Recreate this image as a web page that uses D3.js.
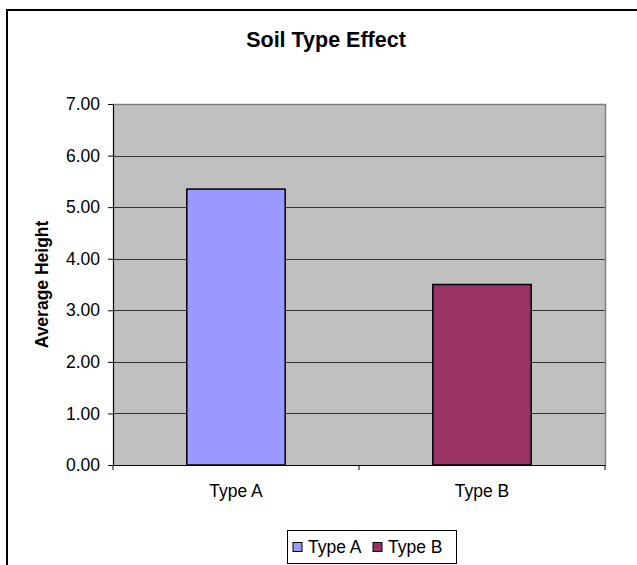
<!DOCTYPE html>
<html>
<head>
<meta charset="utf-8">
<script src="https://cdn.jsdelivr.net/npm/d3@7"></script>
<style>
  html, body { margin: 0; padding: 0; background: #ffffff; }
  svg { display: block; font-family: "Liberation Sans", Arial, sans-serif; }
</style>
</head>
<body>
<svg id="chart" width="637" height="565"></svg>
<script>
const categories = ["Type A", "Type B"];
const values = [5.35, 3.50];
const colors = ["#9999FF", "#993366"];
const yTicks = [0, 1, 2, 3, 4, 5, 6, 7];
const chartTitle = "Soil Type Effect";
const yTitle = "Average Height";

const svg = d3.select("#chart");
const plot = { left: 113, right: 605, top: 104, bottom: 465 };

// outer chart border
svg.append("rect")
  .attr("x", 7).attr("y", 10)
  .attr("width", 660).attr("height", 600)
  .attr("fill", "#ffffff").attr("stroke", "#000").attr("stroke-width", 2);

const y = d3.scaleLinear().domain([0, 7]).range([plot.bottom, plot.top]);
const x = d3.scaleBand().domain(categories).range([plot.left, plot.right])
  .paddingInner(0.6).paddingOuter(0.3);

// plot background
svg.append("rect")
  .attr("x", plot.left).attr("y", plot.top)
  .attr("width", plot.right - plot.left).attr("height", plot.bottom - plot.top)
  .attr("fill", "#C0C0C0");

// gridlines
svg.append("g").selectAll("line")
  .data(yTicks.filter(t => t > 0 && t < 7))
  .join("line")
  .attr("x1", plot.left).attr("x2", plot.right)
  .attr("y1", d => Math.round(y(d)) + 0.5).attr("y2", d => Math.round(y(d)) + 0.5)
  .attr("stroke", "#333").attr("stroke-width", 1);

// plot border top/right
svg.append("path")
  .attr("d", `M${plot.left},${plot.top + 0.5}H${plot.right + 0.5}V${plot.bottom}`)
  .attr("fill", "none").attr("stroke", "#808080").attr("stroke-width", 1.5);

// bars
svg.append("g").selectAll("rect")
  .data(categories)
  .join("rect")
  .attr("x", d => x(d))
  .attr("y", (d, i) => y(values[i]))
  .attr("width", x.bandwidth())
  .attr("height", (d, i) => y(0) - y(values[i]))
  .attr("fill", (d, i) => colors[i])
  .attr("stroke", "#000").attr("stroke-width", 1.5);

// y axis
const yAxis = d3.axisLeft(y).tickValues(yTicks).tickFormat(d3.format(".2f"))
  .tickSizeInner(5).tickSizeOuter(0).tickPadding(8);
const yg = svg.append("g").attr("transform", `translate(${plot.left},0)`).call(yAxis);
yg.select(".domain").attr("stroke", "#000").attr("stroke-width", 1.2);
yg.selectAll(".tick line").attr("stroke", "#000");
yg.selectAll("text").attr("font-size", "17.5px").attr("fill", "#000")
  .attr("font-family", "'Liberation Sans', Arial, sans-serif");

// x axis
const xAxis = d3.axisBottom(x).tickSize(0).tickPadding(20);
const xg = svg.append("g").attr("transform", `translate(0,${plot.bottom})`).call(xAxis);
xg.select(".domain").attr("stroke", "#000").attr("stroke-width", 1.2);
xg.selectAll("text").attr("font-size", "17.5px").attr("fill", "#000")
  .attr("font-family", "'Liberation Sans', Arial, sans-serif");
// category boundary tick marks
const bounds = [plot.left, (plot.left + plot.right) / 2, plot.right];
svg.append("g").selectAll("line").data(bounds).join("line")
  .attr("x1", d => d).attr("x2", d => d)
  .attr("y1", plot.bottom).attr("y2", plot.bottom + 5)
  .attr("stroke", "#000").attr("stroke-width", 1);

// title
svg.append("text")
  .attr("x", 326).attr("y", 47)
  .attr("text-anchor", "middle")
  .attr("font-size", "21.5px").attr("font-weight", "bold")
  .text(chartTitle);

// y axis title
svg.append("text")
  .attr("transform", `translate(48,${(plot.top + plot.bottom) / 2}) rotate(-90)`)
  .attr("text-anchor", "middle")
  .attr("font-size", "17.5px").attr("font-weight", "bold")
  .text(yTitle);

// legend
const lg = svg.append("g");
lg.append("rect")
  .attr("x", 287.5).attr("y", 530.5).attr("width", 169).attr("height", 33)
  .attr("fill", "#fff").attr("stroke", "#000").attr("stroke-width", 1);
const legendX = [293, 373];
categories.forEach((c, i) => {
  lg.append("rect")
    .attr("x", legendX[i]).attr("y", 542.5).attr("width", 9).attr("height", 9)
    .attr("fill", colors[i]).attr("stroke", "#000").attr("stroke-width", 1);
  lg.append("text")
    .attr("x", legendX[i] + 15).attr("y", 553)
    .attr("font-size", "17.5px")
    .text(c);
});
</script>
</body>
</html>
